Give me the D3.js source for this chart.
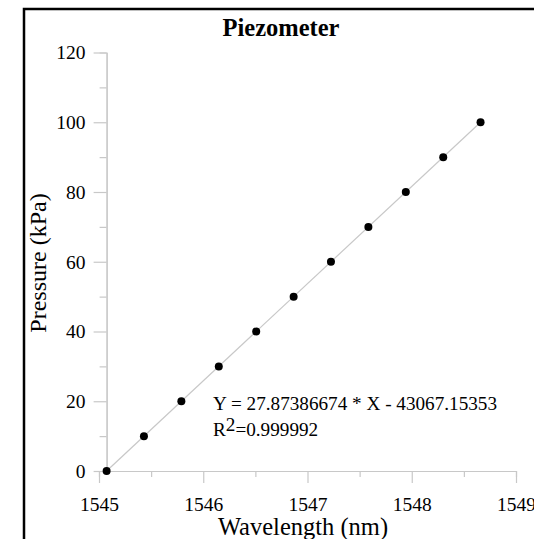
<!DOCTYPE html>
<html>
<head>
<meta charset="utf-8">
<script src="https://cdn.jsdelivr.net/npm/d3@7"></script>
<style>
  html, body { margin: 0; padding: 0; background: #fff; }
  svg { display: block; }
  text { font-family: "Liberation Serif", "Times New Roman", serif; fill: #000; }
</style>
</head>
<body>
<svg id="chart" width="534" height="539"></svg>
<script>
// Piezometer calibration: pressure vs. Bragg wavelength
const wavelength = [1545.073, 1545.431, 1545.790, 1546.149, 1546.508, 1546.867,
                    1547.225, 1547.584, 1547.943, 1548.302, 1548.660];
const pressure = [0, 10, 20, 30, 40, 50, 60, 70, 80, 90, 100];
const slope = 27.87386674;
const intercept = -43067.15353;
const xMajorTicks = [1545, 1546, 1547, 1548, 1549];
const xMinorTicks = [1545.5, 1546.5, 1547.5, 1548.5];
const yMajorTicks = [0, 20, 40, 60, 80, 100, 120];
const yMinorTicks = [10, 30, 50, 70, 90, 110];

const svg = d3.select("#chart");
const axisColor = "#c8c8c8";

// outer frame (extends past the right/bottom edges)
svg.append("rect")
  .attr("x", 24).attr("y", 9)
  .attr("width", 700).attr("height", 700)
  .attr("fill", "none").attr("stroke", "#000").attr("stroke-width", 2.5);

const x = d3.scaleLinear().domain([1545, 1549]).range([99, 516]);
const y = d3.scaleLinear().domain([0, 120]).range([471, 52.5]);

const yAxisX = x(wavelength[0]);

function styleAxis(g) {
  g.select(".domain").attr("stroke", axisColor).attr("stroke-width", 1.2);
  g.selectAll(".tick line").attr("stroke", axisColor).attr("stroke-width", 1.2);
  g.selectAll("text").attr("font-size", 19.5).attr("fill", "#000")
    .attr("font-family", "Liberation Serif, Times New Roman, serif");
}

// x axis: minor then major ticks
svg.append("g")
  .attr("transform", `translate(0,${y(0)})`)
  .call(d3.axisBottom(x).tickValues(xMinorTicks).tickSize(6).tickFormat(""))
  .call(styleAxis);
svg.append("g")
  .attr("transform", `translate(0,${y(0)})`)
  .call(d3.axisBottom(x).tickValues(xMajorTicks).tickSize(12).tickSizeOuter(0)
        .tickPadding(14).tickFormat(d3.format("d")))
  .call(styleAxis);

// y axis placed at the first wavelength
svg.append("g")
  .attr("transform", `translate(${yAxisX},0)`)
  .call(d3.axisLeft(y).tickValues(yMinorTicks).tickSize(7).tickFormat(""))
  .call(styleAxis);
svg.append("g")
  .attr("transform", `translate(${yAxisX},0)`)
  .call(d3.axisLeft(y).tickValues(yMajorTicks).tickSize(13).tickSizeOuter(0)
        .tickPadding(8).tickFormat(d3.format("d")))
  .call(styleAxis);

// linear fit across the measured range
const xFit = d3.extent(wavelength);
svg.append("line")
  .attr("x1", x(xFit[0])).attr("y1", y(slope * xFit[0] + intercept))
  .attr("x2", x(xFit[1])).attr("y2", y(slope * xFit[1] + intercept))
  .attr("stroke", "#c8c8c8").attr("stroke-width", 1.2);

// measured points
svg.append("g").selectAll("circle")
  .data(wavelength.map((w, i) => ({ w, p: pressure[i] })))
  .join("circle")
  .attr("cx", d => x(d.w))
  .attr("cy", d => y(d.p))
  .attr("r", 4)
  .attr("fill", "#000");

// title
svg.append("text")
  .attr("x", 281).attr("y", 36)
  .attr("text-anchor", "middle")
  .attr("font-size", 24.5).attr("font-weight", "bold")
  .text("Piezometer");

// axis titles
svg.append("text")
  .attr("x", 303).attr("y", 535)
  .attr("text-anchor", "middle")
  .attr("font-size", 24.5)
  .text("Wavelength (nm)");

svg.append("text")
  .attr("transform", "translate(46,263) rotate(-90)")
  .attr("text-anchor", "middle")
  .attr("font-size", 24)
  .text("Pressure (kPa)");

// fit equation
svg.append("text")
  .attr("x", 213).attr("y", 410)
  .attr("font-size", 19.2)
  .text("Y = 27.87386674 * X - 43067.15353");

const r2 = svg.append("text")
  .attr("x", 213).attr("y", 436)
  .attr("font-size", 19.2);
r2.append("tspan").text("R");
r2.append("tspan").attr("dy", -5).text("2");
r2.append("tspan").attr("dy", 5).text("=0.999992");
</script>
</body>
</html>
